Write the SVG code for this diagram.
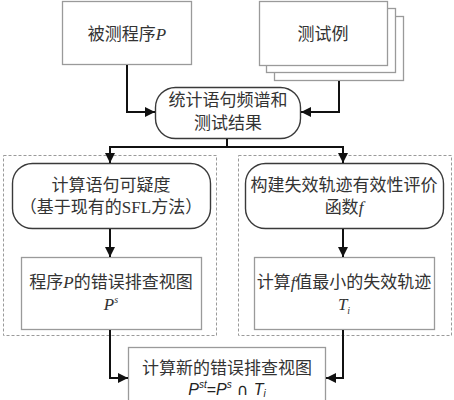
<svg xmlns="http://www.w3.org/2000/svg" width="454" height="400" viewBox="0 0 454 400">
<defs>
<style>
.box{fill:#fff;stroke:#9a9a9a;stroke-width:1.3}
.rbox{fill:#fff;stroke:#3a3a3a;stroke-width:1.4}
.dash{fill:none;stroke:#9a9a9a;stroke-width:1;stroke-dasharray:3,2}
.t{font-family:"Liberation Serif","Noto Sans CJK SC",serif;font-size:17px;fill:#333;text-anchor:middle}
.i{font-style:italic}
.s{font-family:"Liberation Sans",Arial,sans-serif;font-style:italic;font-size:16px;fill:#222;text-anchor:middle}
.c{fill:none;stroke:#111;stroke-width:2}
</style>
<marker id="ah" markerWidth="10" markerHeight="10" viewBox="0 0 10 10" refX="10" refY="5" orient="auto" markerUnits="userSpaceOnUse">
<path d="M0,0 L10,5 L0,10 z" fill="#111"/>
</marker>
</defs>
<rect width="454" height="400" fill="#fff"/>
<g id="panels">
<rect class="dash" x="3.5" y="155.5" width="213" height="180"/>
<rect class="dash" x="238.5" y="155.5" width="213" height="180"/>
</g>
<g id="program">
<rect class="box" x="62.5" y="1.5" width="129" height="63"/>
<text class="t" x="127" y="40">被测程序<tspan class="i">P</tspan></text>
</g>
<g id="tests">
<rect class="box" x="274.5" y="16.5" width="129" height="64"/>
<rect class="box" x="266.5" y="8.5" width="129" height="64"/>
<rect class="box" x="259.5" y="1.5" width="128" height="64"/>
<text class="t" x="323" y="40">测试例</text>
</g>
<g id="stats">
<rect class="rbox" x="155.5" y="87.5" width="145" height="51" rx="20"/>
<text class="t" x="228" y="106">统计语句频谱和</text>
<text class="t" x="228" y="129">测试结果</text>
</g>
<g id="susp">
<rect class="rbox" x="12.5" y="163.5" width="198" height="65" rx="20"/>
<text class="t" x="111" y="191">计算语句可疑度</text>
<text class="t" x="111" y="213">（基于现有的SFL方法）</text>
</g>
<g id="evalf">
<rect class="rbox" x="245.5" y="163.5" width="198" height="65" rx="20"/>
<text class="t" x="344" y="191">构建失效轨迹有效性评价</text>
<text class="t" x="344" y="213">函数<tspan class="i">f</tspan></text>
</g>
<g id="ps">
<rect class="box" x="21.5" y="257.5" width="180" height="72"/>
<text class="t" x="111" y="288">程序<tspan class="i">P</tspan>的错误排查视图</text>
<text class="t i" x="111" y="310">P<tspan font-size="10" dy="-7">s</tspan></text>
</g>
<g id="ti">
<rect class="box" x="254.5" y="257.5" width="180" height="72"/>
<text class="t" x="344" y="288">计算<tspan class="i">f</tspan>值最小的失效轨迹</text>
<text class="t i" x="344" y="310">T<tspan font-size="10" dy="4">i</tspan></text>
</g>
<g id="pst">
<rect class="box" x="128.5" y="347.5" width="197" height="60"/>
<text class="t" x="227" y="374">计算新的错误排查视图</text>
<text class="s" x="227" y="395">P<tspan font-size="10" dy="-7">st</tspan><tspan dy="7" font-style="normal">=</tspan>P<tspan font-size="10" dy="-7">s</tspan><tspan dy="7" font-style="normal" font-family="DejaVu Sans"> ∩ </tspan>T<tspan font-size="10" dy="2">i</tspan></text>
</g>
<g id="connectors">
<path class="c" d="M127,65 V112 H155" marker-end="url(#ah)"/>
<path class="c" d="M339,81 V112 H301" marker-end="url(#ah)"/>
<path class="c" d="M227,139 V147"/>
<path class="c" d="M110,147 H343"/>
<path class="c" d="M110,146 V163" marker-end="url(#ah)"/>
<path class="c" d="M343,146 V163" marker-end="url(#ah)"/>
<path class="c" d="M110,229 V257" marker-end="url(#ah)"/>
<path class="c" d="M343,229 V257" marker-end="url(#ah)"/>
<path class="c" d="M110,330 V378 H128" marker-end="url(#ah)"/>
<path class="c" d="M343,330 V378 H326" marker-end="url(#ah)"/>
</g>
</svg>
